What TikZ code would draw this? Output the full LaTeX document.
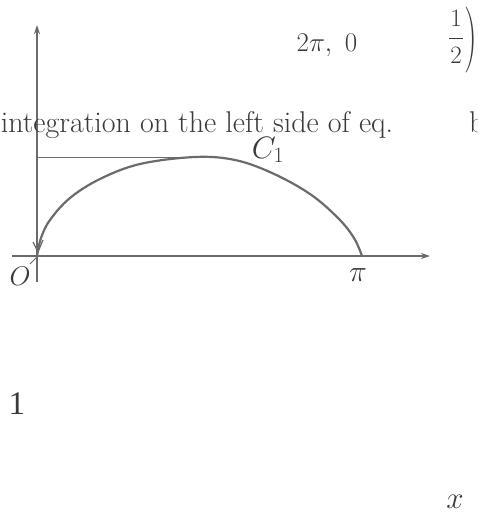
\RequirePackage{fix-cm}
\documentclass[tikz,border=0pt]{standalone}
\usepackage{fontspec}
\newfontfamily\timesf{Liberation Serif}
\usetikzlibrary{arrows.meta}
\definecolor{ink}{HTML}{6B6B6B}
\definecolor{txt}{HTML}{3A3A3A}
\tikzset{
  axis/.style={draw=ink, line width=1.3pt, -{Stealth[length=9pt,width=6pt]}},
  curveln/.style={draw=ink, line width=2.2pt},
  thinln/.style={draw=ink, line width=1pt},
  lbl/.style={text=txt, inner sep=0pt, font=\fontsize{27}{32}\selectfont},
  body/.style={text=txt, inner sep=0pt, font=\fontsize{30}{36}\selectfont},
  digit/.style={text=txt, inner sep=0pt, font=\fontsize{25}{30}\selectfont},
}
\begin{document}
\begin{tikzpicture}[x=1pt,y=-1pt]
\useasboundingbox (0,0) rectangle (477,516);
\begin{scope}
\clip (0,0) rectangle (477,516);
% axes
\coordinate (ybot) at (37,282);
\coordinate (ytop) at (37,25);
\coordinate (xl) at (12,256);
\coordinate (xr) at (430,256);
\draw[axis] (ybot) -- (ytop);
\draw[axis] (xl) -- (xr);
% horizontal guide
\coordinate (hl) at (37,157);
\coordinate (hr) at (195,157);
\draw[thinln] (hl) -- (hr);
% curve
\draw[curveln] plot[smooth, tension=0.6] coordinates {(37,256) (41,238) (50,220) (70,198) (100,179) (140,164) (195,157) (235,160) (272,173) (310,194) (338,218) (354,238) (362,256)};
% small mark near O
\draw[thinln, line width=1.2pt] (33,242) -- (38,252) -- (43,240);
\draw[thinln] (37,257) -- (30,264);
% labels
\node[lbl, font=\fontsize{31}{36}\selectfont] (c1) at (268,150) {$C_1$};
\node[lbl] (o) at (20,276) {$O$};
\node[lbl, font=\fontsize{30}{36}\selectfont] (pi) at (358,275) {$\pi$};
\node[lbl] (t1) at (327,45) {$2\pi,\ 0$};
% fraction 1/2 with big paren
\node[digit, anchor=base] (num) at (456,27) {1};
\node[digit, anchor=base] (den) at (456,64) {2};
\coordinate (barl) at (449,39);
\coordinate (barr) at (463,39);
\draw[draw=txt, line width=1pt] (barl) -- (barr);
\node[text=txt, inner sep=0pt, font=\fontsize{66}{76}\selectfont] (par) at (471,40) {\scalebox{0.55}[1]{)}};
\node[body] (t3) at (197,125) {integration on the left side of eq.};
\node[body, anchor=west] (t4) at (469,122) {b};
\node[text=txt, inner sep=0pt, font=\timesf\fontsize{33}{38}\selectfont] (one) at (17,404) {1};
\node[text=txt, inner sep=0pt, font=\fontsize{31}{36}\selectfont] (xx) at (455,502) {$x$};
\end{scope}
\end{tikzpicture}
\end{document}
